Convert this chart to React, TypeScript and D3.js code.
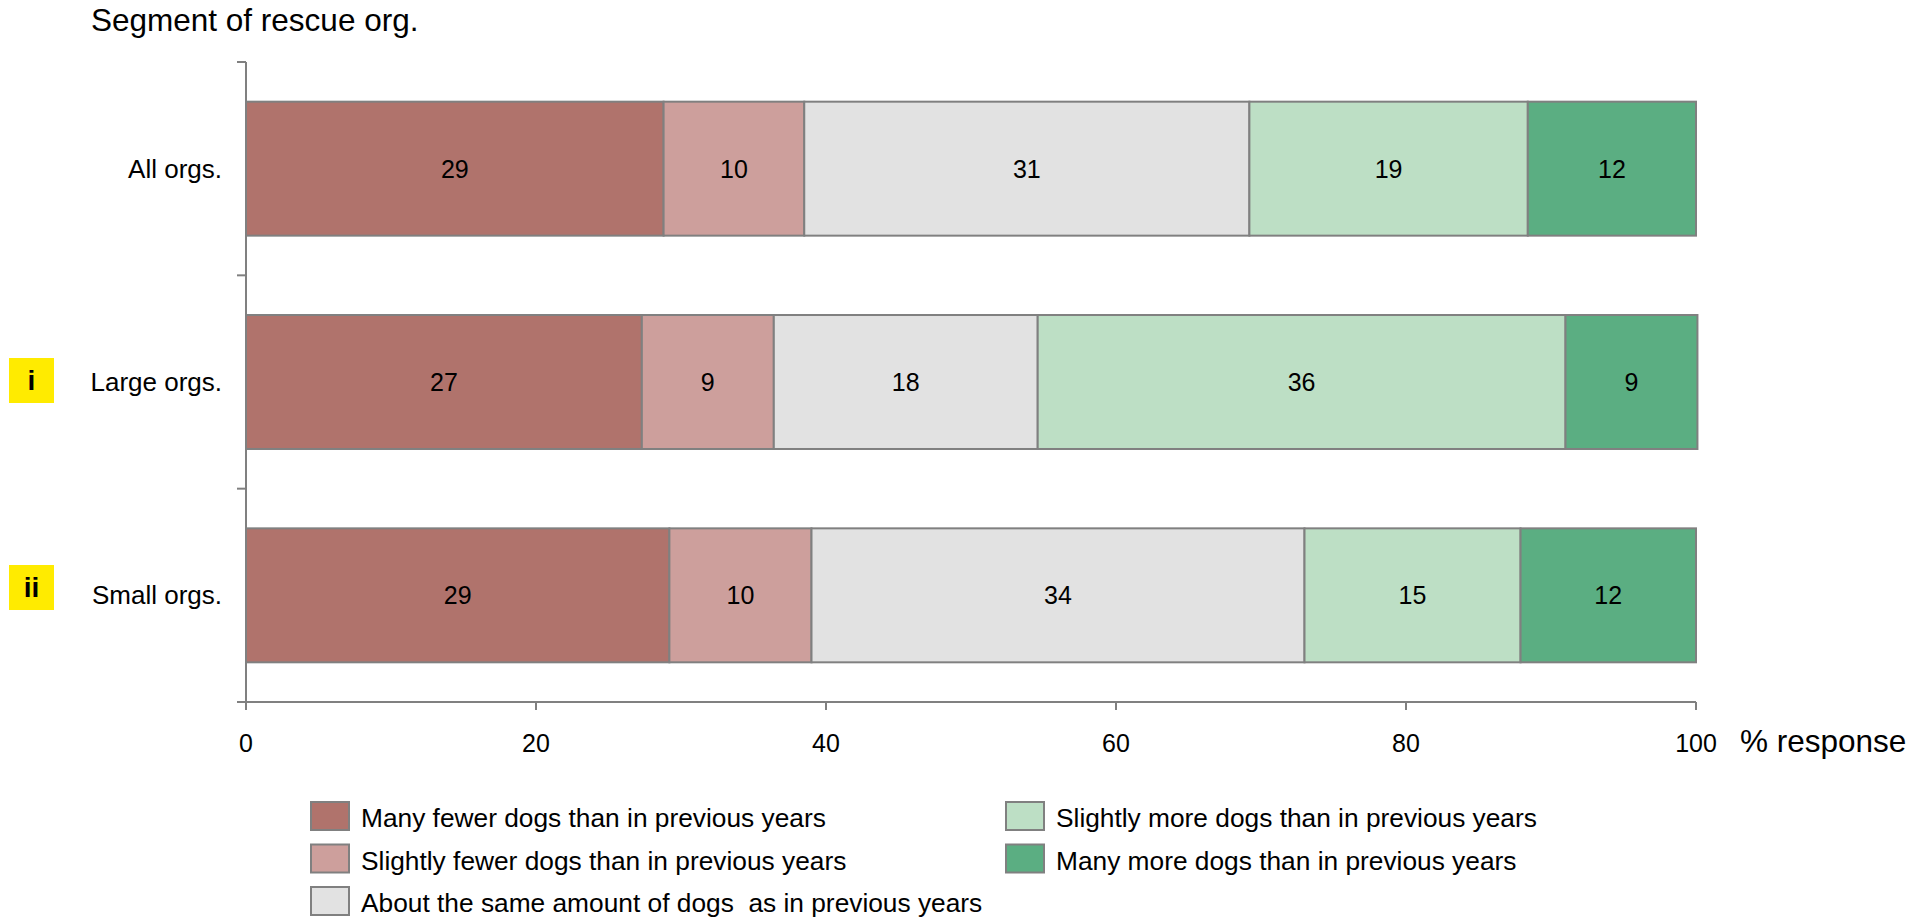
import React from "react";
import * as d3 from "d3";

const categories = ["All orgs.", "Large orgs.", "Small orgs."];
const markers = ["", "i", "ii"];
const seriesNames = [
  "Many fewer dogs than in previous years",
  "Slightly fewer dogs than in previous years",
  "About the same amount of dogs  as in previous years",
  "Slightly more dogs than in previous years",
  "Many more dogs than in previous years",
];
const seriesColors = ["#B0736C", "#CD9F9C", "#E2E2E2", "#BDDFC5", "#5BAE82"];
const manyFewer = [28.8, 27.3, 29.2];
const slightlyFewer = [9.7, 9.1, 9.8];
const aboutSame = [30.7, 18.2, 34.0];
const slightlyMore = [19.2, 36.4, 14.9];
const manyMore = [11.6, 9.1, 12.1];
const valueLabels = [
  [29, 10, 31, 19, 12],
  [27, 9, 18, 36, 9],
  [29, 10, 34, 15, 12],
];
const xTicks = [0, 20, 40, 60, 80, 100];
const title = "Segment of rescue org.";
const xTitle = "% response";

const W = 1927;
const H = 918;
const FONT = "'Liberation Sans', Arial, Helvetica, sans-serif";
const AXIS = "#808080";
const markerBoxTop = [0, 358, 565];

export default function App() {
  const series = [manyFewer, slightlyFewer, aboutSame, slightlyMore, manyMore];
  const x = d3.scaleLinear().domain([0, 100]).range([246, 1696]);
  const y = d3.scaleBand<string>().domain(categories).range([62, 702]).padding(0);
  const barH = y.bandwidth() * 0.628;

  const rows = categories.map((c, i) => {
    let acc = 0;
    return series.map((s, k) => {
      const x0 = acc;
      acc += s[i];
      return { k, x0, x1: acc, label: valueLabels[i][k] };
    });
  });

  const boundaries = [...categories.map((c) => y(c) as number), 702];

  const legendCols = [311, 1006];
  const legendRows = [802, 844.5, 887];
  const legendPos = [
    [0, 0],
    [0, 1],
    [0, 2],
    [1, 0],
    [1, 1],
  ];

  return (
    <svg
      width={W}
      height={H}
      style={{ position: "absolute", left: 0, top: 0, background: "#fff" }}
      fontFamily={FONT}
    >
      <text x={91} y={31} fontSize={31.5} fill="#000">
        {title}
      </text>

      {/* bars */}
      {rows.map((segs, i) => {
        const yc = (y(categories[i]) as number) + y.bandwidth() / 2;
        return (
          <g key={i}>
            {segs.map((s) => (
              <rect
                key={s.k}
                x={x(s.x0)}
                y={yc - barH / 2}
                width={x(s.x1) - x(s.x0)}
                height={barH}
                fill={seriesColors[s.k]}
                stroke={AXIS}
                strokeWidth={2}
              />
            ))}
            {segs.map((s) => (
              <text
                key={"t" + s.k}
                x={(x(s.x0) + x(s.x1)) / 2}
                y={yc + 9}
                textAnchor="middle"
                fontSize={25}
                fill="#000"
              >
                {s.label}
              </text>
            ))}
            <text x={222} y={yc + 9} textAnchor="end" fontSize={26} fill="#000">
              {categories[i]}
            </text>
            {markers[i] && (
              <g>
                <rect x={9} y={markerBoxTop[i]} width={45} height={45} fill="#FFEB00" />
                <text
                  x={31.5}
                  y={markerBoxTop[i] + 32}
                  textAnchor="middle"
                  fontSize={28}
                  fontWeight="bold"
                  fill="#000"
                >
                  {markers[i]}
                </text>
              </g>
            )}
          </g>
        );
      })}

      {/* y axis */}
      <line x1={246} x2={246} y1={62} y2={702} stroke={AXIS} strokeWidth={2} />
      {boundaries.map((b, i) => (
        <line key={i} x1={237} x2={246} y1={b} y2={b} stroke={AXIS} strokeWidth={2} />
      ))}

      {/* x axis */}
      <line x1={237} x2={x(100)} y1={702} y2={702} stroke={AXIS} strokeWidth={2} />
      {xTicks.map((t) => (
        <g key={t}>
          <line x1={x(t)} x2={x(t)} y1={702} y2={710} stroke={AXIS} strokeWidth={2} />
          <text x={x(t)} y={752} textAnchor="middle" fontSize={25} fill="#000">
            {t}
          </text>
        </g>
      ))}
      <text x={1740} y={752} fontSize={31.5} fill="#000">
        {xTitle}
      </text>

      {/* legend */}
      {seriesNames.map((n, k) => {
        const [c, r] = legendPos[k];
        const lx = legendCols[c];
        const ly = legendRows[r];
        return (
          <g key={k}>
            <rect
              x={lx}
              y={ly}
              width={38}
              height={28}
              fill={seriesColors[k]}
              stroke={AXIS}
              strokeWidth={2}
            />
            <text
              x={lx + 50}
              y={ly + 25}
              fontSize={26.3}
              fill="#000"
              style={{ whiteSpace: "pre" }}
            >
              {n}
            </text>
          </g>
        );
      })}
    </svg>
  );
}
